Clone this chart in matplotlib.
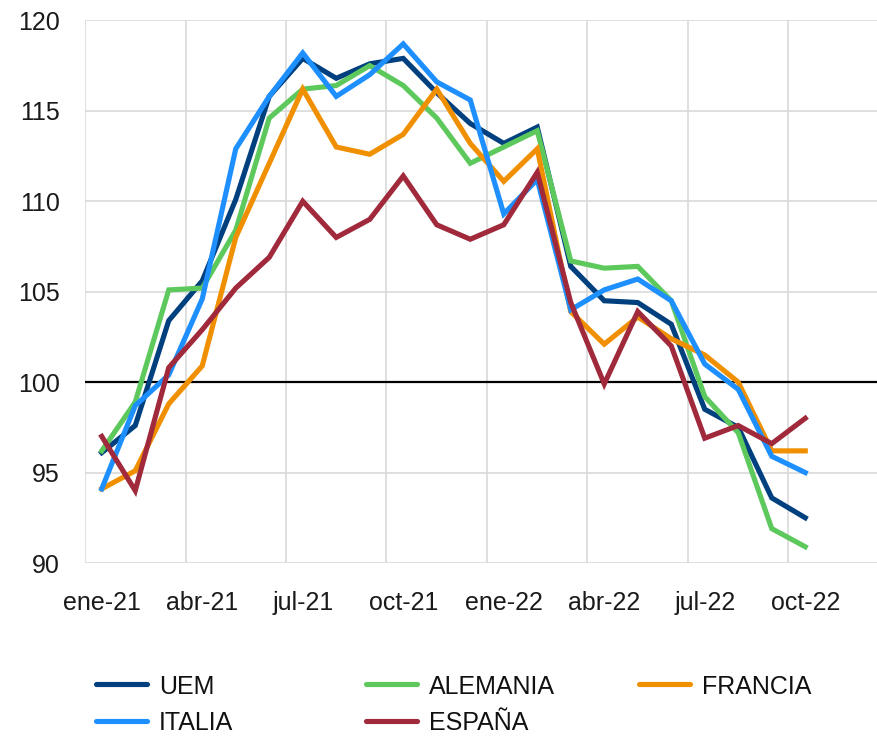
import matplotlib.pyplot as plt
from matplotlib.lines import Line2D

# months ene-21 .. oct-22
meses = ['ene-21', 'feb-21', 'mar-21', 'abr-21', 'may-21', 'jun-21',
         'jul-21', 'ago-21', 'sep-21', 'oct-21', 'nov-21', 'dic-21',
         'ene-22', 'feb-22', 'mar-22', 'abr-22', 'may-22', 'jun-22',
         'jul-22', 'ago-22', 'sep-22', 'oct-22']

uem = [96.1, 97.6, 103.4, 105.6, 110.1, 115.8, 117.9, 116.8, 117.6, 117.9, 116.0,
       114.3, 113.2, 114.1, 106.4, 104.5, 104.4, 103.2, 98.5, 97.5, 93.6, 92.5]
alemania = [96.2, 98.9, 105.1, 105.2, 108.4, 114.6, 116.2, 116.4, 117.5, 116.4, 114.6,
            112.1, 113.0, 113.9, 106.7, 106.3, 106.4, 104.5, 99.2, 97.2, 91.9, 90.9]
francia = [94.1, 95.1, 98.8, 100.9, 108.0, 112.1, 116.2, 113.0, 112.6, 113.7, 116.2,
           113.2, 111.1, 112.9, 103.9, 102.1, 103.6, 102.4, 101.5, 100.0, 96.2, 96.2]
italia = [94.1, 98.7, 100.4, 104.6, 112.9, 115.8, 118.2, 115.8, 117.0, 118.7, 116.6,
          115.6, 109.3, 111.2, 104.0, 105.1, 105.7, 104.5, 101.0, 99.6, 95.9, 95.0]
espana = [97.0, 94.0, 100.8, 102.9, 105.2, 106.9, 110.0, 108.0, 109.0, 111.4, 108.7,
          107.9, 108.7, 111.6, 104.4, 99.9, 103.9, 102.0, 96.9, 97.6, 96.6, 98.0]

series = [('UEM', uem, '#00407f'),
          ('ALEMANIA', alemania, '#5dc95d'),
          ('FRANCIA', francia, '#f09000'),
          ('ITALIA', italia, '#1e8fff'),
          ('ESPAÑA', espana, '#a0293b')]

plt.rcParams['font.family'] = ['Liberation Sans', 'DejaVu Sans']

fig = plt.figure(figsize=(8.77, 7.37), dpi=100)
ax = fig.add_axes([85 / 877, 174 / 737, 804 / 877, 542.6 / 737])

x = list(range(len(meses)))
for name, vals, col in series:
    ax.plot(x, vals, color=col, lw=3.7, solid_joinstyle='miter', zorder=3)

ax.axhline(100, color='black', lw=1.6, zorder=2)

ax.set_xlim(-0.5, 23.5)
ax.set_ylim(90, 120)
ax.set_yticks(range(90, 121, 5))
ax.set_xticks(x[::3])
ax.set_xticklabels(meses[::3])
ax.set_xticks([i - 0.5 for i in range(0, 25, 3)], minor=True)

ax.grid(True, which='minor', axis='x', color='#d9d9d9', lw=1.2)
ax.grid(True, which='major', axis='y', color='#d9d9d9', lw=1.2)
for s in ax.spines.values():
    s.set_visible(False)
ax.tick_params(which='both', length=0)
ax.tick_params(axis='y', pad=18, labelsize=18, labelcolor='#1a1a1a')
ax.tick_params(axis='x', pad=20, labelsize=18, labelcolor='#1a1a1a')

# legend laid out like the original (3 columns, 2 rows)
leg = [('UEM', '#00407f', 93, 684), ('ALEMANIA', '#5dc95d', 363, 684),
       ('FRANCIA', '#f09000', 636, 684), ('ITALIA', '#1e8fff', 93, 721),
       ('ESPAÑA', '#a0293b', 363, 721)]
for name, col, px, py in leg:
    fy = 1 - py / 737
    fig.add_artist(Line2D([(px + 2.5) / 877, (px + 53.5) / 877], [fy, fy], color=col,
                          lw=3.7, solid_capstyle='round', transform=fig.transFigure))
    fig.text((px + 66) / 877, 1 - (py + 9.5) / 737, name, fontsize=18, va='baseline',
             ha='left', color='#111111')

fig.savefig('out.png', dpi=100)
